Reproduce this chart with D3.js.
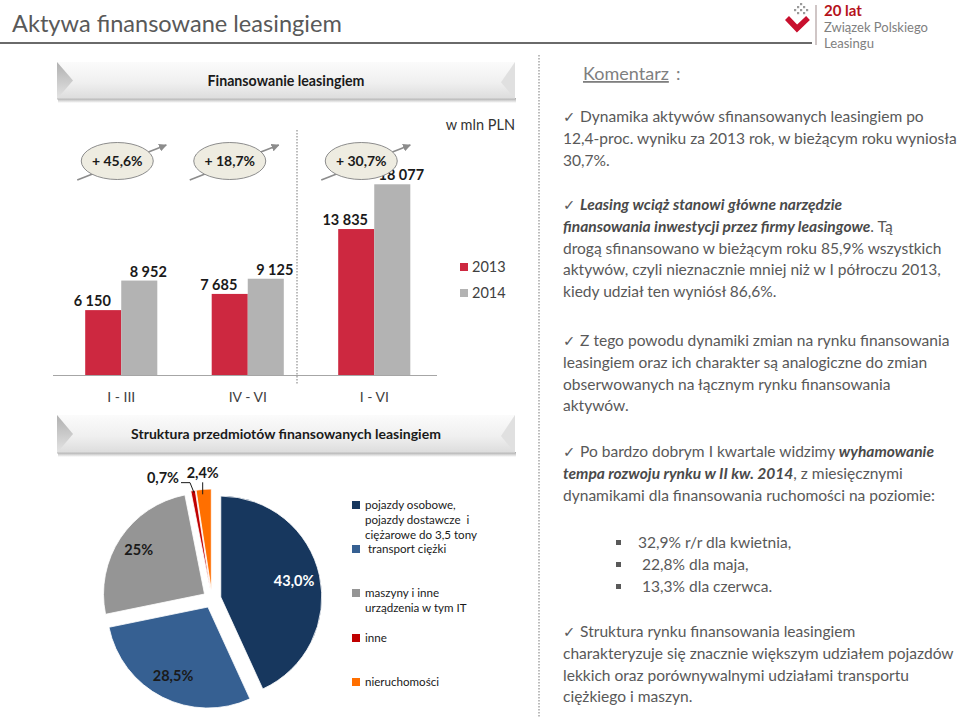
<!DOCTYPE html>
<html><head><meta charset="utf-8">
<script src="https://cdn.jsdelivr.net/npm/d3@7"></script>
<style>body{margin:0;background:#fff}svg{display:block}text{font-family:Lato,"Open Sans",sans-serif}</style>
</head><body><svg id="c" width="960" height="718"></svg>
<script>
// ---------- data ----------
const categories = ["I - III", "IV - VI", "I - VI"];
const years = ["2013", "2014"];
const values2013 = [6150, 7685, 13835];
const values2014 = [8952, 9125, 18077];
const valueLabels2013 = ["6 150", "7 685", "13 835"];
const valueLabels2014 = ["8 952", "9 125", "18 077"];
const growthLabels = ["+ 45,6%", "+ 18,7%", "+ 30,7%"];
const pieCategories = [
  ["pojazdy osobowe,", "pojazdy dostawcze  i", "ciężarowe do 3,5 tony"],
  [" transport ciężki"],
  ["maszyny i inne", "urządzenia w tym IT"],
  ["inne"],
  ["nieruchomości"]
];
const pieValues = [43.0, 28.5, 25, 0.7, 2.4];
const pieLabels = ["43,0%", "28,5%", "25%", "0,7%", "2,4%"];

// commentary text (n = normal, b = bold italic, c = check mark)
const comment = [
  {y:117, lines:[[["c","✓ "],["n","Dynamika aktywów sfinansowanych leasingiem po"]],[["n","12,4-proc. wyniku za 2013 rok, w bieżącym roku wyniosła"]],[["n","30,7%."]]]},
  {y:205, lines:[[["c","✓ "],["b","Leasing wciąż stanowi główne narzędzie"]],[["b","finansowania inwestycji przez firmy leasingowe"],["n",". Tą"]],[["n","drogą sfinansowano w bieżącym roku 85,9% wszystkich"]],[["n","aktywów, czyli nieznacznie mniej niż w I półroczu 2013,"]],[["n","kiedy udział ten wyniósł 86,6%."]]]},
  {y:341, lines:[[["c","✓ "],["n","Z tego powodu dynamiki zmian na rynku finansowania"]],[["n","leasingiem oraz ich charakter są analogiczne do zmian"]],[["n","obserwowanych na łącznym rynku finansowania"]],[["n","aktywów."]]]},
  {y:452, lines:[[["c","✓ "],["n","Po bardzo dobrym I kwartale widzimy "],["b","wyhamowanie"]],[["b","tempa rozwoju rynku w II kw. 2014"],["n",", z miesięcznymi"]],[["n","dynamikami dla finansowania ruchomości na poziomie:"]]]},
  {y:632, lines:[[["c","✓ "],["n","Struktura rynku finansowania leasingiem"]],[["n","charakteryzuje się znacznie większym udziałem pojazdów"]],[["n","lekkich oraz porównywalnymi udziałami transportu"]],[["n","ciężkiego i maszyn."]]]}
];
const bullets = ["32,9% r/r dla kwietnia,", " 22,8% dla maja,", " 13,3% dla czerwca."];

// ---------- helpers ----------
const svg = d3.select("#c");
function fit(sel, w){ const cur = sel.node().getComputedTextLength(); const fs = parseFloat(sel.attr("font-size")); sel.attr("font-size", fs*w/cur); return sel; }
const defs = svg.append("defs");
const bg = defs.append("linearGradient").attr("id","bannerG").attr("x1",0).attr("y1",0).attr("x2",0).attr("y2",1);
bg.append("stop").attr("offset","0%").attr("stop-color","#fbfbfb");
bg.append("stop").attr("offset","55%").attr("stop-color","#f0f0f0");
bg.append("stop").attr("offset","100%").attr("stop-color","#dcdcdc");
const tg = defs.append("linearGradient").attr("id","triG").attr("x1",0).attr("y1",0).attr("x2",0).attr("y2",1);
tg.append("stop").attr("offset","0%").attr("stop-color","#b0b0b0");
tg.append("stop").attr("offset","100%").attr("stop-color","#e4e4e4");
const sg = defs.append("linearGradient").attr("id","shG").attr("x1",0).attr("y1",0).attr("x2",0).attr("y2",1);
sg.append("stop").attr("offset","0%").attr("stop-color","#a8a8a8");
sg.append("stop").attr("offset","100%").attr("stop-color","#ffffff");

function banner(x0,x1,y0,y1,label){
  const g = svg.append("g"), h=y1-y0;
  g.append("rect").attr("x",x0+1).attr("y",y1-1).attr("width",x1-x0).attr("height",5).attr("fill","url(#shG)");
  g.append("rect").attr("x",x0).attr("y",y0).attr("width",x1-x0).attr("height",h).attr("fill","url(#bannerG)");
  g.append("path").attr("d",`M${x0},${y0}L${x0+16},${y0+h*0.5}L${x0},${y1}Z`).attr("fill","url(#triG)");
  g.append("path").attr("d",`M${x1},${y0}L${x1-14},${y0+h*0.55}L${x1},${y1}Z`).attr("fill","#e0e0e0");
  g.append("line").attr("x1",x0).attr("x2",x1).attr("y1",y1).attr("y2",y1).attr("stroke","#bdbdbd").attr("stroke-width",1);
  const t = g.append("text").attr("x",(x0+x1)/2).attr("y",y0+h/2+5).attr("text-anchor","middle")
    .attr("font-size",15).attr("font-weight","bold").attr("fill","#1a1a1a").text(label);
  return t;
}

// ---------- header ----------
fit(svg.append("text").attr("x",12).attr("y",32).attr("font-size",26).attr("fill","#595959").text("Aktywa finansowane leasingiem"),330);
svg.append("line").attr("x1",0).attr("x2",812).attr("y1",43).attr("y2",43).attr("stroke","#6a6a6a").attr("stroke-width",2);
// logo
svg.append("line").attr("x1",816).attr("x2",816).attr("y1",5).attr("y2",45).attr("stroke","#b0a0a0").attr("stroke-width",1.2);
svg.append("path").attr("d","M787,18 L797,28.5 L808,18").attr("fill","none").attr("stroke","#c8102e").attr("stroke-width",5.5).attr("stroke-linejoin","miter");
[[801,4],[798,7],[804,7],[795,10],[801,10],[807,10],[798,13],[804,13]].forEach(p=>svg.append("rect").attr("x",p[0]-1).attr("y",p[1]-1).attr("width",2.2).attr("height",2.2).attr("fill","#9a9a9a"));
svg.append("text").attr("x",824).attr("y",16).attr("font-size",15).attr("font-weight","bold").attr("fill","#b5121b").text("20 lat");
fit(svg.append("text").attr("x",824).attr("y",32).attr("font-size",15).attr("fill","#808080").text("Związek Polskiego"),104);
fit(svg.append("text").attr("x",824).attr("y",48).attr("font-size",15).attr("fill","#808080").text("Leasingu"),50);

// ---------- bar chart ----------
fit(banner(57,515,62,99,"Finansowanie leasingiem"),157);
svg.append("text").attr("x",515).attr("y",130).attr("text-anchor","end").attr("font-size",14.5).attr("fill","#333").text("w mln PLN");

const x0 = d3.scaleBand().domain(categories).range([58,437.5]).paddingInner(0.43).paddingOuter(0.215);
const x1 = d3.scaleBand().domain(years).range([0,x0.bandwidth()]);
const y = d3.scaleLinear().domain([0,20000]).range([375,164]);
const barColor = {"2013":"#cd2840","2014":"#b3b3b3"};
const series = {"2013":values2013,"2014":values2014};
const slabels = {"2013":valueLabels2013,"2014":valueLabels2014};
const labelShift = {"2013":-11,"2014":9};

// dotted separators
svg.append("line").attr("x1",297).attr("x2",297).attr("y1",130).attr("y2",384).attr("stroke","#a6a6a6").attr("stroke-width",1.5).attr("stroke-dasharray","1.5,1.5");
svg.append("line").attr("x1",539).attr("x2",539).attr("y1",55).attr("y2",718).attr("stroke","#a6a6a6").attr("stroke-width",1.5).attr("stroke-dasharray","1.5,1.5");

const gb = svg.append("g");
years.forEach(yr=>{
  categories.forEach((c,i)=>{
    const v = series[yr][i];
    gb.append("rect").attr("x",x0(c)+x1(yr)).attr("y",y(v)).attr("width",x1.bandwidth()).attr("height",y(0)-y(v)).attr("fill",barColor[yr]);
    gb.append("text").attr("x",x0(c)+x1(yr)+x1.bandwidth()/2+labelShift[yr]).attr("y",y(v)-4)
      .attr("text-anchor","middle").attr("font-size",14.5).attr("font-weight","bold").attr("fill","#1a1a1a").text(slabels[yr][i]);
  });
});
svg.append("line").attr("x1",53).attr("x2",437).attr("y1",y(0)+0.5).attr("y2",y(0)+0.5).attr("stroke","#a6a6a6").attr("stroke-width",1.2);
categories.forEach(c=>{
  svg.append("text").attr("x",x0(c)+x0.bandwidth()/2).attr("y",402).attr("text-anchor","middle").attr("font-size",14).attr("fill","#404040").text(c);
});
// legend
years.forEach((yr,i)=>{
  svg.append("rect").attr("x",460).attr("y",263+i*26).attr("width",8).attr("height",8).attr("fill",barColor[yr]);
  svg.append("text").attr("x",472).attr("y",272+i*26).attr("font-size",14.5).attr("fill","#404040").text(yr);
});
// growth ellipses
const annotDx = [-4,-18,-13];
defs.append("marker").attr("id","arr").attr("viewBox","0 0 10 10").attr("refX",9).attr("refY",5).attr("markerWidth",5).attr("markerHeight",5).attr("orient","auto")
  .append("path").attr("d","M0,0L10,5L0,10Z").attr("fill","#8c8c8c");
categories.forEach((c,i)=>{
  const cx = x0(c)+x0.bandwidth()/2+annotDx[i], cy = 161;
  svg.append("line").attr("x1",cx-40).attr("y1",cy+19).attr("x2",cx+49).attr("y2",cy-16).attr("stroke","#8c8c8c").attr("stroke-width",1.6).attr("marker-end","url(#arr)");
  svg.append("ellipse").attr("cx",cx).attr("cy",cy).attr("rx",36).attr("ry",18.5).attr("fill","#eeece1").attr("stroke","#8c8c8c").attr("stroke-width",1);
  svg.append("text").attr("x",cx).attr("y",cy+5).attr("text-anchor","middle").attr("font-size",14).attr("font-weight","bold").attr("fill","#1a1a1a").text(growthLabels[i]);
});

// ---------- pie ----------
fit(banner(57,515,415,453,"Struktura przedmiotów finansowanych leasingiem"),310);
const pieColors = ["#17375e","#366092","#959595","#c00000","#ff6f00"];
const pc = [212,599], R = 101, explode = 9;
const arcs = d3.pie().sort(null).value(d=>d)(pieValues);
const arc = d3.arc().innerRadius(0).outerRadius(R);
const gp = svg.append("g");
arcs.forEach((p,i)=>{
  const a = (p.startAngle+p.endAngle)/2, dx = Math.sin(a)*explode, dy = -Math.cos(a)*explode;
  gp.append("path").attr("d",arc(p)).attr("transform",`translate(${pc[0]+dx},${pc[1]+dy})`).attr("fill",pieColors[i]).attr("stroke","#fff").attr("stroke-width",0.8);
});
const labelR = [84,86,88];
arcs.forEach((p,i)=>{
  const a = (p.startAngle+p.endAngle)/2, sx = Math.sin(a), sy = -Math.cos(a);
  if (i<3){
    gp.append("text").attr("x",pc[0]+sx*labelR[i]).attr("y",pc[1]+sy*labelR[i]+5).attr("text-anchor","middle")
      .attr("font-size",14.5).attr("font-weight","bold").attr("fill",i===0?"#ffffff":"#1a1a1a").text(pieLabels[i]);
  } else {
    const ox = pc[0]+sx*(R+explode), oy = pc[1]+sy*(R+explode);
    if (i===3){
      gp.append("path").attr("d",`M${ox+1},${oy+2}L${ox-3},${oy-8}L${ox-12},${oy-8}`).attr("fill","none").attr("stroke","#1a1a1a").attr("stroke-width",1);
      gp.append("text").attr("x",ox-14).attr("y",oy-8).attr("text-anchor","end").attr("font-size",14.5).attr("font-weight","bold").attr("fill","#1a1a1a").text(pieLabels[i]);
    } else {
      gp.append("path").attr("d",`M${ox-1},${oy+5}L${ox-1},${oy-7}`).attr("fill","none").attr("stroke","#1a1a1a").attr("stroke-width",1);
      gp.append("text").attr("x",ox-1).attr("y",oy-11).attr("text-anchor","middle").attr("font-size",14.5).attr("font-weight","bold").attr("fill","#1a1a1a").text(pieLabels[i]);
    }
  }
});
// pie legend
const legY = [505,549,593,638,682];
const legFs = 12.5;
const gl = svg.append("g");
let refT;
pieCategories.forEach((lines,i)=>{
  gl.append("rect").attr("x",352).attr("y",legY[i]-4).attr("width",8).attr("height",8).attr("fill",pieColors[i]);
  lines.forEach((ln,j)=>{
    const t = gl.append("text").attr("x",365).attr("y",legY[i]+4+j*15.2).attr("font-size",legFs).attr("fill","#1a1a1a").style("white-space","pre").text(ln);
    if (i===0 && j===2) refT = t;
  });
});
{ const k = 112/refT.node().getComputedTextLength(); gl.selectAll("text").attr("font-size",legFs*k); }

// ---------- commentary ----------
const gc = svg.append("g");
const kom = gc.append("text").attr("x",583).attr("y",80).attr("font-size",18).attr("fill","#7f7f7f").attr("text-decoration","underline").text("Komentarz");
gc.append("text").attr("x",676).attr("y",80).attr("font-size",18).attr("fill","#7f7f7f").text(":");
const LH = 21.8, baseFs = 16;
let refLine;
const textNodes = [];
comment.forEach(par=>{
  par.lines.forEach((segs,j)=>{
    const t = gc.append("text").attr("x",563).attr("y",par.y+5+j*LH).attr("font-size",baseFs).attr("fill","#595959").style("white-space","pre");
    segs.forEach(s=>{
      const ts = t.append("tspan").text(s[1]);
      if (s[0]==="b") ts.attr("font-weight","bold").attr("font-style","italic").attr("fill","#4a4a4a");
      if (s[0]==="c") ts.attr("font-family","DejaVu Sans").attr("font-size","0.95em");
    });
    if (segs[0][1].startsWith("12,4")) refLine = t;
    textNodes.push(t);
  });
});
const bNodes = [];
bullets.forEach((b,i)=>{
  gc.append("rect").attr("x",616).attr("y",543+i*22-3).attr("width",5).attr("height",5).attr("fill","#595959");
  bNodes.push(gc.append("text").attr("x",638).attr("y",543+5+i*22).attr("font-size",baseFs).attr("fill","#595959").style("white-space","pre").text(b));
});
{ const k = 394/refLine.node().getComputedTextLength(); textNodes.concat(bNodes).forEach(t=>t.attr("font-size",baseFs*k)); kom.attr("font-size",18*k*1.03); }
</script></body></html>
